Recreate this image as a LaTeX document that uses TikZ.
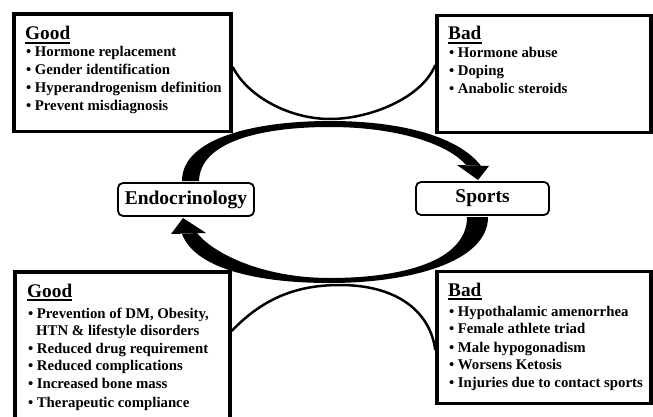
\documentclass[tikz,border=0pt]{standalone}
\usepackage{fontspec}
\setmainfont{Liberation Serif}
\begin{document}
\begin{tikzpicture}[x=1pt,y=-1pt,
  panel/.style={draw, fill=white, line width=3.5pt, inner sep=0pt},
  cbox/.style={draw, fill=white, line width=1.8pt, rounded corners=5pt, inner sep=0pt,
    font=\fontsize{19.5}{21}\selectfont\bfseries},
  head/.style={anchor=base west, inner sep=0pt, font=\fontsize{19.3}{22}\selectfont\bfseries},
  item/.style={anchor=base west, inner sep=0pt, font=\fontsize{14.8}{17}\selectfont\bfseries},
  link/.style={line width=2.5pt},
  bigarrow/.style={fill=black}]
\useasboundingbox (0,0) rectangle (653,417);

% boxes
\node[panel, minimum width=217pt, minimum height=117.5pt] (tl) at (122.5,72.75) {};
\node[panel, minimum width=214pt, minimum height=117pt] (tr) at (544,74) {};
\node[panel, minimum width=215pt, minimum height=153pt] (bl) at (122.5,348.5) {};
\node[panel, minimum width=214pt, minimum height=132pt] (br) at (544,337.5) {};

% thin connectors
\draw[link] ([yshift=5.75pt]tl.east) .. controls (248,97) and (290,119) .. (330,119)
  .. controls (370,119) and (422,98) .. ([yshift=9pt]tr.west);
\draw[link] ([yshift=17.5pt]bl.east) .. controls (265,296) and (300,285) .. (340,285)
  .. controls (395,285) and (430,310) .. ([yshift=-12.5pt]br.west);

% centre nodes
\node[cbox, minimum width=136pt, minimum height=33pt] (endo) at (186,199.5) {Endocrinology};
\node[cbox, minimum width=133pt, minimum height=33pt] (sport) at (482.5,198.5) {Sports};

% big curved arrows
\fill[bigarrow] (182,181) .. controls (182,138) and (255,121) .. (330,121)
  .. controls (405,121) and (460,138) .. (481,166) -- (466,165)
  .. controls (447,143) and (395,127) .. (330,127)
  .. controls (260,127) and (200,142) .. (199,181) -- cycle;
\fill[bigarrow] (457,165) -- (489,166) -- (478,180) -- cycle;

\fill[bigarrow] (488,217) .. controls (488,262) and (410,283) .. (330,283)
  .. controls (255,283) and (195,268) .. (182,234) -- (197,233)
  .. controls (212,252) and (260,278) .. (330,278)
  .. controls (400,278) and (467,262) .. (467,217) -- cycle;
\fill[bigarrow] (171,234) -- (206,233) -- (183,218) -- cycle;

% texts top-left
\node[head] (h1) at (25,40) {Good};
\draw[line width=1.6pt] ([yshift=-3pt]h1.base west) -- ([yshift=-3pt]h1.base east);
\node[item] (a1) at (26,57) {•\hspace{3.5pt}Hormone replacement};
\node[item] (a2) at (26,75) {•\hspace{3.5pt}Gender identification};
\node[item] (a3) at (26,93) {•\hspace{3.5pt}Hyperandrogenism definition};
\node[item] (a4) at (26,111) {•\hspace{3.5pt}Prevent misdiagnosis};

% texts top-right
\node[head] (h2) at (448,40) {Bad};
\draw[line width=1.6pt] ([yshift=-3pt]h2.base west) -- ([yshift=-3pt]h2.base east);
\node[item] (b1) at (449,58) {•\hspace{3.5pt}Hormone abuse};
\node[item] (b2) at (449,76) {•\hspace{3.5pt}Doping};
\node[item] (b3) at (449,94) {•\hspace{3.5pt}Anabolic steroids};

% texts bottom-left
\node[head] (h3) at (27,297) {Good};
\draw[line width=1.6pt] ([yshift=-3pt]h3.base west) -- ([yshift=-3pt]h3.base east);
\node[item] (c1) at (28,318) {•\hspace{3.5pt}Prevention of DM, Obesity,};
\node[item] (c2) at (36,335) {HTN \& lifestyle disorders};
\node[item] (c3) at (28,353) {•\hspace{3.5pt}Reduced drug requirement};
\node[item] (c4) at (28,370) {•\hspace{3.5pt}Reduced complications};
\node[item] (c5) at (28,388) {•\hspace{3.5pt}Increased bone mass};
\node[item] (c6) at (28,407) {•\hspace{3.5pt}Therapeutic compliance};

% texts bottom-right
\node[head] (h4) at (448,296) {Bad};
\draw[line width=1.6pt] ([yshift=-3pt]h4.base west) -- ([yshift=-3pt]h4.base east);
\node[item] (d1) at (449,316) {•\hspace{3.5pt}Hypothalamic amenorrhea};
\node[item] (d2) at (449,333) {•\hspace{3.5pt}Female athlete triad};
\node[item] (d3) at (449,352) {•\hspace{3.5pt}Male hypogonadism};
\node[item] (d4) at (449,369) {•\hspace{3.5pt}Worsens Ketosis};
\node[item] (d5) at (449,387) {•\hspace{3.5pt}Injuries due to contact sports};
\end{tikzpicture}
\end{document}
